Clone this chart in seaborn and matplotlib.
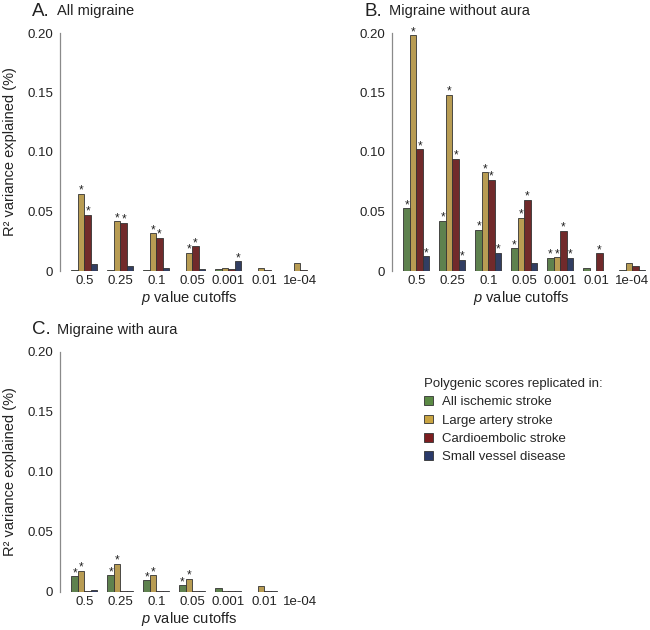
import matplotlib
matplotlib.use('Agg')
import matplotlib.pyplot as plt
from matplotlib.patches import Patch
import seaborn as sns
import pandas as pd

sns.set_style('white')
plt.rcParams['font.family'] = ['Liberation Sans', 'DejaVu Sans']
plt.rcParams['mathtext.fontset'] = 'custom'
plt.rcParams['mathtext.it'] = 'Liberation Sans:italic'
plt.rcParams['mathtext.rm'] = 'Liberation Sans'

cutoffs = ['0.5', '0.25', '0.1', '0.05', '0.001', '0.01', '1e-04']
scores = ['All ischemic stroke', 'Large artery stroke', 'Cardioembolic stroke', 'Small vessel disease']
colors = ['#5b8a45', '#c9a442', '#7d1e20', '#2a3a6a']

# A. All migraine (R2 %, one list per replication stroke subtype)
a_ais = [0.0005, 0.0005, 0.0005, 0.0003, 0.0020, 0.0003, 0.0003]
a_las = [0.0649, 0.0416, 0.0317, 0.0152, 0.0028, 0.0028, 0.0067]
a_ces = [0.0472, 0.0407, 0.0278, 0.0208, 0.0020, 0.0008, 0.0011]
a_svd = [0.0056, 0.0039, 0.0028, 0.0020, 0.0081, 0.0003, 0.0003]
a_stars = {'Large artery stroke': ['0.5', '0.25', '0.1', '0.05'],
           'Cardioembolic stroke': ['0.5', '0.25', '0.1', '0.05'],
           'Small vessel disease': ['0.001']}

# B. Migraine without aura
b_ais = [0.0528, 0.0421, 0.0348, 0.0191, 0.0110, 0.0022, 0.0005]
b_las = [0.1980, 0.1483, 0.0831, 0.0449, 0.0118, 0.0003, 0.0070]
b_ces = [0.1025, 0.0944, 0.0767, 0.0598, 0.0340, 0.0149, 0.0042]
b_svd = [0.0126, 0.0093, 0.0152, 0.0065, 0.0110, 0.0003, 0.0005]
b_stars = {'All ischemic stroke': ['0.5', '0.25', '0.1', '0.05', '0.001'],
           'Large artery stroke': ['0.5', '0.25', '0.1', '0.05', '0.001'],
           'Cardioembolic stroke': ['0.5', '0.25', '0.1', '0.05', '0.001', '0.01'],
           'Small vessel disease': ['0.5', '0.25', '0.1', '0.001']}

# C. Migraine with aura
c_ais = [0.0131, 0.0139, 0.0097, 0.0056, 0.0030, 0.0003, 0.0003]
c_las = [0.0178, 0.0237, 0.0139, 0.0111, 0.0008, 0.0047, 0.0003]
c_ces = [0.0010, 0.0008, 0.0005, 0.0005, 0.0005, 0.0010, 0.0003]
c_svd = [0.0015, 0.0008, 0.0005, 0.0010, 0.0005, 0.0005, 0.0003]
c_stars = {'All ischemic stroke': ['0.5', '0.25', '0.1', '0.05'],
           'Large artery stroke': ['0.5', '0.25', '0.1', '0.05']}

W, H = 650, 630
fig = plt.figure(figsize=(6.5, 6.3), dpi=100)


def draw_panel(px, values, stars, letter, title, ylabel=True):
    # px = (left, top of 0.20, right, baseline) in pixels
    left, top, right, base = px
    ax = fig.add_axes([left / W, 1 - base / H, (right - left) / W, (base - top) / H])
    df = pd.DataFrame({
        'cutoff': cutoffs * len(scores),
        'score': [s for s in scores for _ in cutoffs],
        'r2': [v for series in values for v in series],
    })
    sns.barplot(data=df, x='cutoff', y='r2', hue='score', order=cutoffs, hue_order=scores,
                palette=colors, width=0.72, errorbar=None, edgecolor='#333333',
                linewidth=0.6, legend=False, ax=ax)
    for i, s in enumerate(scores):
        for bar, c in zip(ax.containers[i], cutoffs):
            if c in stars.get(s, []):
                ax.text(bar.get_x() + bar.get_width() / 2, bar.get_height(), '*',
                        ha='center', va='baseline', fontsize=8.5, color='#222222')
    ax.set_xlim(-0.68, 6.5)
    ax.set_ylim(0, 0.2)
    ax.set_yticks([0, 0.05, 0.10, 0.15, 0.20])
    ax.set_yticklabels(['0', '0.05', '0.10', '0.15', '0.20'])
    for sp in ['top', 'right', 'bottom']:
        ax.spines[sp].set_visible(False)
    ax.spines['left'].set_color('#8a8a8a')
    ax.spines['left'].set_linewidth(0.9)
    ax.tick_params(axis='y', length=3, color='#8a8a8a', labelsize=9.5, labelcolor='#222222', pad=2)
    ax.tick_params(axis='x', length=0, labelsize=9.5, labelcolor='#222222', pad=3)
    ax.set_xlabel('$p$ value cutoffs', fontsize=10.5, color='#222222', labelpad=1)
    if ylabel:
        ax.set_ylabel('R² variance explained (%)', fontsize=10.5, color='#222222', labelpad=7)
    else:
        ax.set_ylabel('')
    ty = top - 22
    fig.text((left - 28) / W, 1 - ty / H, letter, fontsize=13.5, color='#222222', va='center')
    fig.text((left - 3) / W, 1 - ty / H, title, fontsize=10.5, color='#222222', va='center')
    return ax


draw_panel((60, 33, 318, 271), [a_ais, a_las, a_ces, a_svd], a_stars, 'A.', 'All migraine')
draw_panel((392, 33, 650, 271), [b_ais, b_las, b_ces, b_svd], b_stars, 'B.', 'Migraine without aura', ylabel=False)
draw_panel((60, 352, 318, 592), [c_ais, c_las, c_ces, c_svd], c_stars, 'C.', 'Migraine with aura')

handles = [Patch(facecolor=c, edgecolor='#333333', linewidth=0.6) for c in colors]
fig.legend(handles, scores, title='Polygenic scores replicated in:', loc='upper left',
           bbox_to_anchor=(424 / W, 1 - 378 / H), frameon=False, fontsize=9.5,
           title_fontsize=9.5, handlelength=0.7, handleheight=0.6, handletextpad=0.7,
           labelspacing=0.48, alignment='left', borderaxespad=0, borderpad=0)

fig.savefig('out.png', dpi=100)
